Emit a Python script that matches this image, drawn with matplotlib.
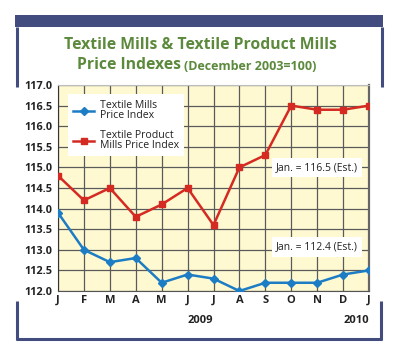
import matplotlib
matplotlib.use("Agg")
import matplotlib.pyplot as plt
from matplotlib.patches import Rectangle
from matplotlib.lines import Line2D

months = ["J", "F", "M", "A", "M", "J", "J", "A", "S", "O", "N", "D", "J"]
textile_mills = [113.9, 113.0, 112.7, 112.8, 112.2, 112.4, 112.3, 112.0, 112.2, 112.2, 112.2, 112.4, 112.5]
textile_product = [114.8, 114.2, 114.5, 113.8, 114.1, 114.5, 113.6, 115.0, 115.3, 116.5, 116.4, 116.4, 116.5]
yticks = [112.0, 112.5, 113.0, 113.5, 114.0, 114.5, 115.0, 115.5, 116.0, 116.5, 117.0]
year_labels = [(6, "2009"), (12, "2010")]
notes = [(10.0, 115.0, "Jan. = 116.5 (Est.)"), (10.0, 113.07, "Jan. = 112.4 (Est.)")]

W, H = 400, 356
fig = plt.figure(figsize=(4.0, 3.56), dpi=100)
fig.patch.set_facecolor("white")

def fx(px):
    return px / W

def fy(py):
    return 1 - py / H

navy = "#424C7F"
green = "#5C8A3C"
blue = "#1C7CC4"
red = "#D42A22"

# frame
fig.add_artist(Rectangle((fx(15), fy(27)), fx(383) - fx(15), fy(15) - fy(27),
                         transform=fig.transFigure, facecolor=navy, edgecolor="none"))
for (x0, y0, x1, y1) in [(17, 27, 17, 87), (381.5, 27, 381.5, 87),
                         (16.5, 301, 16.5, 339.5), (380.5, 301, 380.5, 339.5),
                         (15.5, 338.5, 381.5, 338.5)]:
    fig.add_artist(Line2D([fx(x0), fx(x1)], [fy(y0), fy(y1)], transform=fig.transFigure,
                          color=navy, linewidth=2.2, solid_capstyle="butt"))

# title
fig.text(0.5, fy(45), "Textile Mills & Textile Product Mills", ha="center", va="center",
         fontsize=11.3, fontweight="bold", color=green, family="Open Sans")
fig.text(fx(181), fy(65), "Price Indexes", ha="right", va="center",
         fontsize=11.3, fontweight="bold", color=green, family="Open Sans")
fig.text(fx(184), fy(66), "(December 2003=100)", ha="left", va="center",
         fontsize=9, fontweight="bold", color=green, family="Open Sans")

ax = fig.add_axes([fx(58), fy(291), fx(369) - fx(58), fy(85) - fy(291)])
ax.set_facecolor("#FFF9D2")
x = list(range(len(months)))
ax.plot(x, textile_mills, color=blue, linewidth=1.8, marker="D", markersize=4,
        label="Textile Mills\nPrice Index", zorder=3)
ax.plot(x, textile_product, color=red, linewidth=1.8, marker="s", markersize=3.8,
        label="Textile Product\nMills Price Index", zorder=3)

ax.set_xlim(0, 12)
ax.set_ylim(112, 117)
ax.set_xticks(x)
ax.set_xticklabels(months, fontsize=8, fontweight="bold", family="Open Sans")
ax.set_yticks(yticks)
ax.set_yticklabels([f"{v:.1f}" for v in yticks], fontsize=7.8, fontweight="bold",
                   family="Open Sans")
ax.tick_params(axis="both", length=0, pad=4, colors="#222222")
ax.tick_params(axis="x", pad=3)
ax.grid(True, color="#5a5a5a", linewidth=0.9)
ax.set_axisbelow(True)
ax.spines["top"].set_color("#bdbdbd")
ax.spines["left"].set_color("#333333")
ax.spines["bottom"].set_color("#555555")
ax.spines["right"].set_color("#666666")
ax.spines["right"].set_linewidth(1.6)

for xi, lab in year_labels:
    ax.annotate(lab, xy=(xi, 112), xycoords="data", xytext=(0, -21.5), textcoords="offset points",
                ha="right", va="center", fontsize=8, fontweight="bold", family="Open Sans",
                color="#222222", annotation_clip=False)

for nx, ny, txt in notes:
    ax.text(nx, ny, txt, ha="center", va="center", fontsize=7.5, family="Open Sans",
            color="#222222",
            bbox=dict(boxstyle="square,pad=0.4", facecolor="white", edgecolor="none"), zorder=4)

leg = ax.legend(loc="upper left", bbox_to_anchor=(0.032, 0.955), borderaxespad=0,
                fancybox=False, frameon=True, framealpha=1, edgecolor="white",
                prop={"family": "Open Sans", "size": 7.6}, handlelength=2.0,
                handletextpad=0.5, labelspacing=0.8, borderpad=0.5)
leg.get_frame().set_linewidth(0)
for t in leg.get_texts():
    t.set_color("#222222")
    t.set_linespacing(0.95)

fig.savefig("out.png", dpi=100)
